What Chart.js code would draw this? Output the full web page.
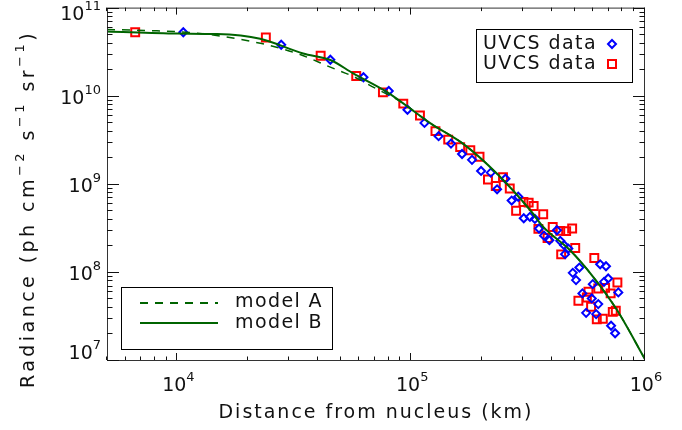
<!DOCTYPE html>
<html>
<head>
<meta charset="utf-8">
<script src="https://cdn.jsdelivr.net/npm/chart.js@4.4.1/dist/chart.umd.min.js"></script>
<style>
  html, body { margin: 0; padding: 0; background: #fff; }
  #wrap { width: 682px; height: 430px; }
</style>
</head>
<body>
<div id="wrap"><canvas id="radChart" width="682" height="430"></canvas></div>
<script>
// Radiance profile along the tail: UVCS measurements and two model curves
const xMin = 5e3, xMax = 1e6;
const yMin = 1e7, yMax = 1e11;
const xTickExp = [4, 5, 6];
const yTickExp = [7, 8, 9, 10, 11];

// UVCS data, diamond set (km, ph cm-2 s-1 sr-1)
const diamondDist = [10600, 27800, 45100, 62500, 80200, 96400, 114000, 131000, 148000, 165000,
  182000, 199000, 219000, 233000, 253000, 269000, 287000, 303000, 322000, 338000,
  352000, 370000, 390000, 420000, 434000, 451000, 455000, 470000, 491000, 507000,
  524000, 540000, 560000, 592000, 598000, 618000, 631000, 643000, 668000, 681000,
  696000, 716000, 745000, 769000];
const diamondRad = [5.25e10, 3.79e10, 2.56e10, 1.62e10, 1.13e10, 6.93e9, 4.91e9, 3.47e9, 2.86e9, 2.18e9,
  1.87e9, 1.40e9, 1.34e9, 8.66e8, 1.14e9, 6.45e8, 7.13e8, 4.06e8, 4.21e8, 3.99e8,
  3.11e8, 2.58e8, 2.29e8, 2.97e8, 2.25e8, 2.01e8, 1.59e8, 1.84e8, 9.75e7, 8.07e7,
  1.12e8, 5.70e7, 3.43e7, 5.00e7, 7.26e7, 3.32e7, 4.31e7, 1.22e8, 7.71e7, 1.16e8,
  8.43e7, 2.45e7, 2.01e7, 5.85e7];

// UVCS data, square set
const squareDist = [6600, 23900, 41000, 58200, 75700, 92500, 109000, 127000, 144000, 162000,
  179000, 196000, 213000, 230000, 247000, 264000, 281000, 302000, 318000, 334000,
  350000, 367000, 383000, 403000, 434000, 438000, 460000, 488000, 503000, 519000,
  564000, 573000, 588000, 607000, 622000, 631000, 660000, 675000, 713000, 728000,
  750000, 762000];
const squareRad = [5.25e10, 4.57e10, 2.84e10, 1.67e10, 1.09e10, 8.13e9, 5.97e9, 3.96e9, 3.17e9, 2.61e9,
  2.40e9, 2.03e9, 1.12e9, 9.44e8, 1.19e9, 8.83e8, 4.94e8, 6.22e8, 6.12e8, 5.60e8,
  3.08e8, 4.51e8, 2.43e8, 3.24e8, 2.92e8, 1.58e8, 2.90e8, 3.11e8, 1.87e8, 4.70e7,
  5.13e7, 5.94e7, 4.02e7, 1.44e8, 2.89e7, 6.49e7, 2.94e7, 6.59e7, 5.70e7, 3.52e7,
  3.62e7, 7.59e7];

// model curves
const modelADist = [5000, 7670, 11360, 15300, 21500, 24900, 33500, 45100, 57700, 68100,
  89800, 121000, 167000, 233000, 323000, 367000, 478000, 600000, 759000, 1000000];
const modelARad = [5.64e10, 5.48e10, 5.21e10, 4.75e10, 4.05e10, 3.71e10, 2.93e10, 2.11e10, 1.61e10, 1.27e10,
  8.61e9, 4.85e9, 2.84e9, 1.30e9, 5.01e8, 3.24e8, 1.76e8, 8.79e7, 3.69e7, 1.02e7];
const modelBDist = [5000, 10000, 14800, 22600, 34500, 45100, 56500, 78900, 121000, 167000,
  233000, 323000, 367000, 478000, 600000, 759000, 1000000];
const modelBRad = [5.35e10, 5.07e10, 5.01e10, 4.42e10, 3.01e10, 2.54e10, 1.79e10, 1.10e10, 4.85e9, 2.84e9,
  1.30e9, 5.01e8, 3.24e8, 1.76e8, 8.79e7, 3.69e7, 1.02e7];

const green = '#006400';
const fontFamily = '"DejaVu Sans", sans-serif';
const inkColor = '#111';

function toPoints(xs, ys) {
  return xs.map((v, i) => ({ x: v, y: ys[i] }));
}

// draws a line of text made of normal and superscript pieces
function drawRuns(ctx, runs, x, y, align, size, fitWidth) {
  const supSize = Math.round(size * 0.68);
  ctx.letterSpacing = '0px';
  const widths = runs.map(([t, sup]) => {
    ctx.font = `${sup ? supSize : size}px ${fontFamily}`;
    return ctx.measureText(t).width;
  });
  const nChars = runs.reduce((n, [t]) => n + t.length, 0);
  let ls = 0;
  if (fitWidth) ls = (fitWidth - widths.reduce((a, b) => a + b, 0)) / nChars;
  const total = widths.reduce((a, b) => a + b, 0) + ls * nChars;
  let cx = align === 'center' ? x - total / 2 : align === 'right' ? x - total : x;
  ctx.textAlign = 'left';
  ctx.textBaseline = 'middle';
  ctx.fillStyle = inkColor;
  ctx.letterSpacing = ls + 'px';
  runs.forEach(([t, sup], i) => {
    ctx.font = `${sup ? supSize : size}px ${fontFamily}`;
    ctx.fillText(t, cx, sup ? y - size * 0.42 : y);
    cx += widths[i] + ls * t.length;
  });
  ctx.letterSpacing = '0px';
}

const frameAndLabels = {
  id: 'frameAndLabels',
  afterDraw(chart) {
    const { ctx, chartArea: a, scales: { x, y } } = chart;
    ctx.save();

    // frame
    ctx.strokeStyle = '#333';
    ctx.lineWidth = 1;
    ctx.strokeRect(a.left + 0.5, a.top + 0.5, a.right - a.left - 1, a.bottom - a.top);

    // inward ticks on all four sides
    ctx.strokeStyle = '#111';
    ctx.beginPath();
    for (let e = 3; e <= 6; e++) {
      for (let m = 1; m <= 9; m++) {
        const v = m * Math.pow(10, e);
        if (v < xMin || v > xMax) continue;
        const px = Math.round(x.getPixelForValue(v)) - 0.5;
        const len = m === 1 ? 7 : 3.5;
        ctx.moveTo(px, a.bottom); ctx.lineTo(px, a.bottom - len);
        ctx.moveTo(px, a.top); ctx.lineTo(px, a.top + len);
      }
    }
    for (let e = 7; e <= 11; e++) {
      for (let m = 1; m <= 9; m++) {
        const v = m * Math.pow(10, e);
        if (v < yMin || v > yMax) continue;
        const py = Math.round(y.getPixelForValue(v)) + 0.5;
        const len = m === 1 ? 12 : 5.5;
        ctx.moveTo(a.left, py); ctx.lineTo(a.left + len, py);
        ctx.moveTo(a.right, py); ctx.lineTo(a.right - len, py);
      }
    }
    ctx.stroke();

    // tick labels
    xTickExp.forEach(e => {
      const px = x.getPixelForValue(Math.pow(10, e));
      drawRuns(ctx, [['10', false], [String(e), true]], px + 1, 386, 'center', 19);
    });
    yTickExp.forEach(e => {
      const py = y.getPixelForValue(Math.pow(10, e));
      const cy = Math.min(Math.max(py + 3, 15), 354);
      drawRuns(ctx, [['10', false], [String(e), true]], 101, cy, 'right', 19);
    });

    // axis titles
    drawRuns(ctx, [['Distance from nucleus (km)', false]], 376, 413, 'center', 19, 315);
    ctx.save();
    ctx.translate(29, 209);
    ctx.rotate(-Math.PI / 2);
    drawRuns(ctx, [['Radiance (ph cm', false], ['\u22122', true], [' s', false], ['\u22121', true],
      [' sr', false], ['\u22121', true], [')', false]], 0, 0, 'center', 19, 358);
    ctx.restore();

    // data legend, upper right
    ctx.fillStyle = '#fff';
    ctx.fillRect(476.5, 29.5, 156, 53);
    ctx.strokeStyle = '#000';
    ctx.lineWidth = 1;
    ctx.strokeRect(476.5, 29.5, 156, 53);
    drawRuns(ctx, [['UVCS data', false]], 483, 44, 'left', 19, 114);
    drawRuns(ctx, [['UVCS data', false]], 483, 64, 'left', 19, 114);
    ctx.lineWidth = 2;
    ctx.strokeStyle = '#0000ff';
    ctx.beginPath();
    ctx.moveTo(612, 40); ctx.lineTo(616, 44); ctx.lineTo(612, 48); ctx.lineTo(608, 44); ctx.closePath();
    ctx.stroke();
    ctx.strokeStyle = '#ff0000';
    ctx.strokeRect(608, 60, 8, 8);

    // model legend, lower left
    ctx.fillStyle = '#fff';
    ctx.fillRect(121.5, 287.5, 211, 62);
    ctx.strokeStyle = '#000';
    ctx.lineWidth = 1;
    ctx.strokeRect(121.5, 287.5, 211, 62);
    ctx.strokeStyle = green;
    ctx.lineWidth = 2;
    ctx.setLineDash([8, 7]);
    ctx.beginPath(); ctx.moveTo(140, 303); ctx.lineTo(218, 303); ctx.stroke();
    ctx.setLineDash([]);
    ctx.beginPath(); ctx.moveTo(140, 323); ctx.lineTo(218, 323); ctx.stroke();
    drawRuns(ctx, [['model A', false]], 235, 302, 'left', 19, 88);
    drawRuns(ctx, [['model B', false]], 235, 323, 'left', 19, 88);

    ctx.restore();
  }
};

new Chart(document.getElementById('radChart'), {
  type: 'scatter',
  data: {
    datasets: [{
      label: 'model B',
      data: toPoints(modelBDist, modelBRad),
      showLine: true,
      borderColor: green,
      borderWidth: 2,
      pointRadius: 0,
      cubicInterpolationMode: 'monotone',
      order: 0
    }, {
      label: 'model A',
      data: toPoints(modelADist, modelARad),
      showLine: true,
      borderColor: green,
      borderWidth: 1.5,
      borderDash: [8, 7],
      pointRadius: 0,
      cubicInterpolationMode: 'monotone',
      order: 0
    }, {
      label: 'UVCS data',
      data: toPoints(diamondDist, diamondRad),
      pointStyle: 'rectRot',
      pointRadius: 4,
      borderWidth: 2,
      pointBorderWidth: 2,
      borderColor: '#0000ff',
      pointBorderColor: '#0000ff',
      pointBackgroundColor: 'rgba(0,0,0,0)',
      order: 1
    }, {
      label: 'UVCS data',
      data: toPoints(squareDist, squareRad),
      pointStyle: 'rect',
      pointRadius: 5.6,
      borderWidth: 2,
      pointBorderWidth: 2,
      borderColor: '#ff0000',
      pointBorderColor: '#ff0000',
      pointBackgroundColor: 'rgba(0,0,0,0)',
      order: 2
    }]
  },
  options: {
    responsive: false,
    animation: false,
    devicePixelRatio: 1,
    layout: { padding: { left: 107, right: 37, top: 7, bottom: 70 } },
    scales: {
      x: { type: 'logarithmic', min: xMin, max: xMax, display: false },
      y: { type: 'logarithmic', min: yMin, max: yMax, display: false }
    },
    plugins: {
      legend: { display: false },
      tooltip: { enabled: false }
    }
  },
  plugins: [frameAndLabels]
});
</script>
</body>
</html>
